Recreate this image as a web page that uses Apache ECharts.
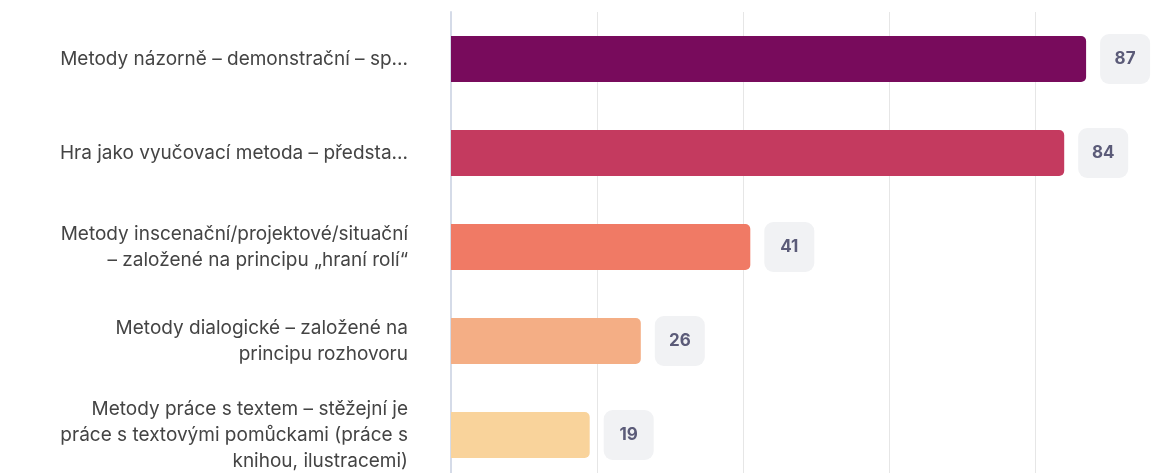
<!DOCTYPE html>
<html>
<head>
<meta charset="utf-8">
<script src="https://cdn.jsdelivr.net/npm/echarts@6/dist/echarts.min.js"></script>
<style>
  html, body { margin: 0; padding: 0; background: #fff; }
  #chart { width: 1165px; height: 473px; }
</style>
</head>
<body>
<div id="chart"></div>
<script>
const categories = [
  'Metody názorně – demonstrační – sp...',
  'Hra jako vyučovací metoda – předsta...',
  'Metody inscenační/projektové/situační\n– založené na principu „hraní rolí“',
  'Metody dialogické – založené na\nprincipu rozhovoru',
  'Metody práce s textem – stěžejní je\npráce s textovými pomůckami (práce s\nknihou, ilustracemi)'
]
const values = [87, 84, 41, 26, 19]
const barColors = ['#780b5c', '#c43a5f', '#f07a65', '#f4ae85', '#f9d39b']

const chart = echarts.init(document.getElementById('chart'))
const option = {
  animation: false,
  grid: {
    left: 451,
    top: 12,
    width: 730,
    height: 470,
    outerBoundsMode: 'none'
  },
  xAxis: {
    type: 'value',
    min: 0,
    max: 100,
    interval: 20,
    axisLabel: { show: false },
    axisLine: { show: false },
    axisTick: { show: false },
    splitLine: { lineStyle: { color: '#e6e6e6', width: 1 } }
  },
  yAxis: {
    type: 'category',
    inverse: true,
    data: categories,
    axisTick: { show: false },
    axisLine: { lineStyle: { color: '#d5dbe8', width: 2 } },
    axisLabel: {
      margin: 43,
      fontFamily: 'Inter',
      fontSize: 19,
      lineHeight: 26,
      color: '#444'
    }
  },
  series: [{
    type: 'bar',
    barWidth: 46,
    data: values.map((v, i) => ({
      value: v,
      itemStyle: { color: barColors[i] }
    })),
    itemStyle: { borderRadius: [0, 5, 5, 0] },
    label: {
      show: true,
      position: 'right',
      distance: 39,
      fontFamily: 'Inter',
      fontSize: 17,
      fontWeight: 'bold',
      color: '#5b5b78',
      backgroundColor: '#f1f2f4',
      borderRadius: 9,
      width: 50,
      height: 50,
      lineHeight: 50,
      align: 'center'
    }
  }]
}
chart.setOption(option)
</script>
</body>
</html>
